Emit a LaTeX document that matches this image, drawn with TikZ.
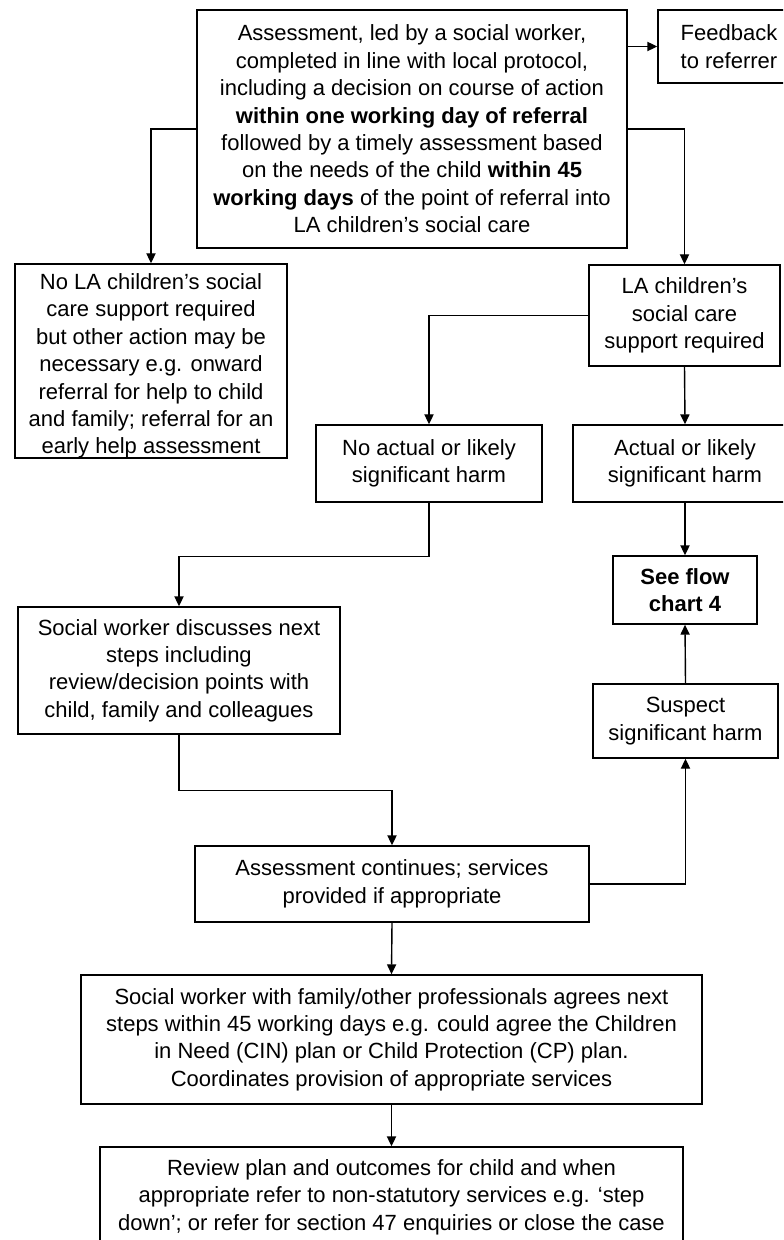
\documentclass[tikz,border=0pt]{standalone}
\usepackage{fontspec}
\setmainfont{Liberation Sans}
\usetikzlibrary{arrows.meta}

\begin{document}
\begin{tikzpicture}[x=0.5pt,y=-0.5pt,line width=0.7pt,>={Triangle[length=5pt,width=4.6pt]},
    box/.style={draw,align=center,inner sep=0pt,font=\fontsize{11}{13.7}\selectfont}]

    \useasboundingbox (0,0) rectangle (783,1240);
    \clip (0,0) rectangle (783,1240);

    \node[box,minimum width=215pt,minimum height=119pt] (assess) at (412,129) {Assessment, led by a social worker,\\completed in line with local protocol,\\including a decision on course of action\\\textbf{within one working day of referral}\\followed by a timely assessment based\\on the needs of the child \textbf{within 45}\\\textbf{working days} of the point of referral into\\LA children's social care};
    \node[box,minimum width=71pt,minimum height=36.5pt] (feedback) at (729,46.5) {Feedback\\to referrer};
    \node[box,minimum width=136pt,minimum height=97pt,
        label={[box,draw=none,yshift=-2.5pt]center:{No LA children's social\\care support required\\but other action may be\\necessary e.g. onward\\referral for help to child\\and family; referral for an\\early help assessment}}] (nola) at (151,361) {};
    \node[box,minimum width=95.5pt,minimum height=50.5pt] (lasupport) at (684.5,315.5) {LA children's\\social care\\support required};
    \node[box,minimum width=113pt,minimum height=38.5pt] (noharm) at (429,463.5) {No actual or likely\\significant harm};
    \node[box,minimum width=112pt,minimum height=38.5pt] (harm) at (685,463.5) {Actual or likely\\significant harm};
    \node[box,minimum width=72pt,minimum height=34pt] (seechart) at (685,590) {\textbf{See flow}\\\textbf{chart 4}};
    \node[box,minimum width=161pt,minimum height=63.5pt] (swdiscuss) at (179,670.5) {Social worker discusses next\\steps including\\review/decision points with\\child, family and colleagues};
    \node[box,minimum width=92.5pt,minimum height=37pt] (suspect) at (685.5,721) {Suspect\\significant harm};
    \node[box,minimum width=197pt,minimum height=38pt] (assesscont) at (392,884) {Assessment continues; services\\provided if appropriate};
    \node[box,minimum width=310.5pt,minimum height=64.5pt] (swfamily) at (391.5,1039.5) {Social worker with family/other professionals agrees next\\steps within 45 working days e.g. could agree the Children\\in Need (CIN) plan or Child Protection (CP) plan.\\Coordinates provision of appropriate services};
    \node[box,minimum width=291.5pt,minimum height=50pt] (review) at (391.5,1197) {Review plan and outcomes for child and when\\appropriate refer to non-statutory services e.g. `step\\down'; or refer for section 47 enquiries or close the case};

    \draw[->] (assess.east |- feedback.west) -- (feedback.west);
    \draw[->] (assess.west) -| (nola.north);
    \draw[->] (assess.east) -| (lasupport.north);
    \draw[->] (lasupport.west) -| (noharm.north);
    \draw[->] (lasupport.south) -- (harm.north);
    \draw[->] (harm.south) -- (seechart.north);
    \draw[->] (noharm.south) -- ++(0,54) -| (swdiscuss.north);
    \draw[->] (swdiscuss.south) -- ++(0,56) -| (assesscont.north);
    \draw[->] (assesscont.east) -| (suspect.south);
    \draw[->] (suspect.north) -- (seechart.south);
    \draw[->] (assesscont.south) -- (swfamily.north);
    \draw[->] (swfamily.south) -- (review.north);
\end{tikzpicture}
\end{document}
